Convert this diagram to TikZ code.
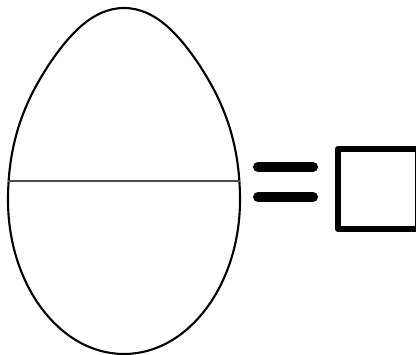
\documentclass[tikz,border=0pt]{standalone}
\usepackage{tikz}
\usetikzlibrary{positioning,calc}
\tikzset{
    eggline/.style={line width=1.5pt, black},
    cutline/.style={line width=1.1pt, black!70},
    eqbar/.style={line width=0.25cm, black, line cap=round},
    answerbox/.style={rectangle, draw=black, line width=0.15cm, minimum size=2cm, inner sep=0pt, line join=round},
}
\begin{document}
\begin{tikzpicture}[x=0.025cm, y=-0.025cm]
    \useasboundingbox (0,0) rectangle (416,355);
    % egg outline
    \draw[eggline] (124,8) .. controls (156,8) and (180,36) .. (200,66)
        .. controls (222,100) and (240,140) .. (240,200)
        .. controls (240,285) and (188,354) .. (124,354)
        .. controls (60,354) and (8,285) .. (8,200)
        .. controls (8,140) and (26,100) .. (48,66)
        .. controls (68,36) and (92,8) .. (124,8) -- cycle;
    % cut through the middle
    \coordinate (cutL) at (8,181);
    \coordinate (cutR) at (240,181);
    \draw[cutline] (cutL) -- (cutR);
    % equals sign
    \foreach \y/\name in {167/top, 197/bot} {
        \coordinate (eq\name L) at (258,\y);
        \coordinate (eq\name R) at (313,\y);
        \draw[eqbar] (eq\name L) -- (eq\name R);
    }
    \node[answerbox] (answer) at (378,189) {};
\end{tikzpicture}
\end{document}
